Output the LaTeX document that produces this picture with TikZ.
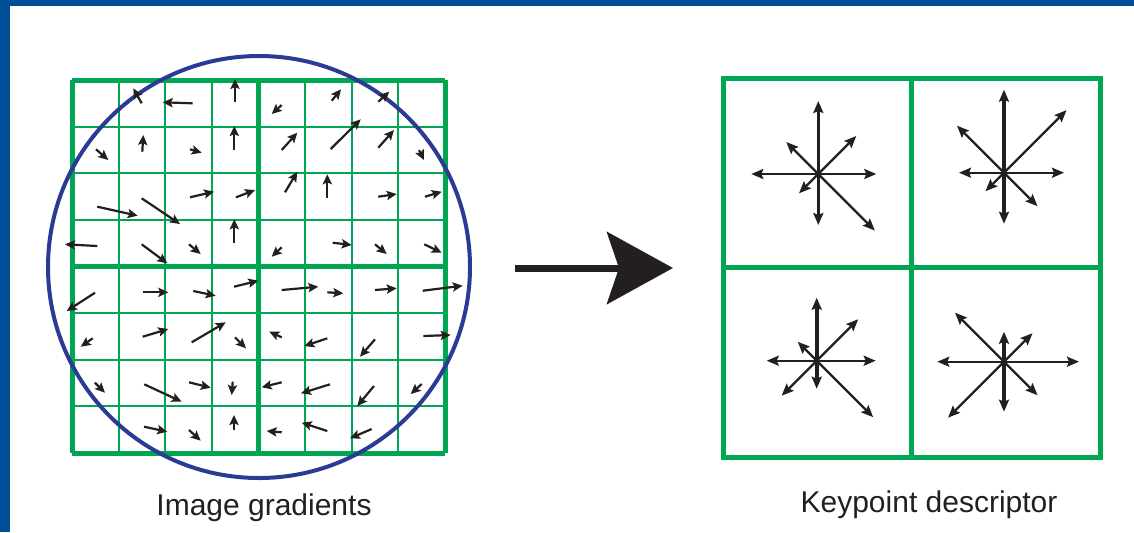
\documentclass[tikz,border=0pt]{standalone}
\usepackage{fontspec}
\setmainfont{Liberation Sans}
\usepackage{xcolor}
\definecolor{slideblue}{HTML}{004E9A}
\definecolor{siftgreen}{HTML}{00A651}
\definecolor{circblue}{HTML}{2B3A94}
\definecolor{inkdark}{HTML}{231F20}
\usetikzlibrary{arrows.meta, positioning}
\tikzset{
  gthin/.style ={draw=siftgreen, line width=1pt},
  gthick/.style={draw=siftgreen, line width=2.5pt},
  circ/.style  ={draw=circblue, line width=2pt},
  garr/.style  ={-{Stealth[length=5pt, width=4.6pt, inset=1pt]}, line width=1.1pt, color=inkdark},
  sarr/.style  ={-{Stealth[length=6pt, width=5pt, inset=1pt]}, line width=1.15pt, color=inkdark},
  sarrv/.style ={sarr, line width=1.8pt},
  bigarr/.style={-{Stealth[length=33pt, width=36pt, inset=6pt]}, line width=3.5pt, color=inkdark},
  lbl/.style   ={font=\fontsize{15}{18}\selectfont, text=inkdark, inner sep=0pt, anchor=base},
}
\begin{document}
\begin{tikzpicture}[x=0.5pt, y=-0.5pt]
  \useasboundingbox (0,0) rectangle (1134,532);
  % slide frame
  \fill[slideblue] (0,0) rectangle (1134,6);
  \fill[slideblue] (0,0) rectangle (10,532);

  % left: sample grid
  \foreach \i in {1,2,3,5,6,7} {
    \draw[gthin] ({72+46.625*\i},80) -- ({72+46.625*\i},453);
    \draw[gthin] (72,{80+46.625*\i}) -- (445,{80+46.625*\i});
  }
  \foreach \i in {0,4,8} {
    \draw[gthick] ({72+46.625*\i},80) -- ({72+46.625*\i},453);
    \draw[gthick] (72,{80+46.625*\i}) -- (445,{80+46.625*\i});
  }
  \draw[circ] (259,267) circle[radius=105.5pt];

  % gradient samples
  \foreach \xa/\ya/\xb/\yb in {
    141.7/103.3/133.3/88.3, 192.7/103.3/162.7/102.3, 235/101.7/235/79,
    96/149.3/108.3/160, 142.3/151.7/143.3/135, 190/149.3/201.7/152.7, 234.3/150/234.3/126,
    97.3/206.7/137.7/215.7, 141.7/198.3/180/224, 190/197.3/214/191.7, 236/197.3/255/190,
    97.3/246/65/244.3, 141.7/244.3/167.3/263.3, 189/244.3/200.7/254, 234.3/243.3/234.3/219.3,
    281.7/105/271.7/114, 331.7/100.7/341/89.3, 378.3/101.7/389.3/91.7,
    281.7/150/297.3/132.7, 330.7/149/360.7/119.3, 378.3/147.7/394/130, 419/150/424/160,
    285/192.3/297.3/171.7, 327.3/197.7/327.3/174.3, 378.3/196.7/396.7/194, 425/196.7/441.7/191.7,
    281.7/247.3/271.7/256.7, 332.7/242.7/351.7/245, 375/244.3/386.7/254, 424.3/244.3/441.7/252.7,
    95/292.7/66.7/311, 142.7/292.3/168.3/292.3, 193.3/291/215.7/295.7, 234/286.7/258.3/280.7,
    92.7/338.3/80.7/346.7, 142.7/336.7/168.3/329, 191.7/342.3/225.7/322.3, 235/337.3/246/348.3,
    95/382.7/105/392.7, 144.3/384.3/181.7/401.7, 189/382.3/210.7/387.7, 232.7/381.7/231.7/395,
    144/426.7/167.3/431.7, 189/430/200.7/440.7, 234/430/234/415,
    281.7/290/318.3/286.7, 327.3/292.3/343.3/293.3, 375/290/396.7/288.3, 422.7/290.7/462.7/285.7,
    281.7/337.3/269.3/331.7, 327.3/338.3/304.3/346, 375/339.3/360/356.7, 423.3/336/450.7/335,
    281.7/382.3/261.7/387.3, 330/384.3/301/393.3, 374/386/357.3/406, 421.7/384/410.7/394,
    281.7/432.3/266.7/431, 327.3/431/301.7/422.7, 371.7/429/350/438.3}
    \draw[garr] (\xa,\ya) -- (\xb,\yb);

  % transform arrow
  \coordinate (arrS) at (515,268);
  \coordinate (arrE) at (673,268);
  \draw[bigarr] (arrS) -- (arrE);

  % right: descriptor box
  \draw[gthick] (723,78) rectangle (1100,457);
  \draw[gthick] (911.5,78) -- (911.5,457);
  \draw[gthick] (723,267.5) -- (1100,267.5);

  % orientation histograms
  \foreach \cx/\cy/\u/\d/\l/\r/\ur/\ul/\dl/\dr [count=\k] in {
    818.3/174/73/51/67/58/38/32/19.3/56.5,
    1004/172.7/83/51/45/60/62.5/47/18.5/33.5,
    816.7/360.7/63/28/50/59/41.5/19/35/56.5,
    1004/361.7/30/50/66.7/75/28.5/49/56/33.5} {
    \coordinate (hist\k) at (\cx,\cy);
    \draw[sarr] (hist\k) -- ++(-\l,0);
    \draw[sarr] (hist\k) -- ++(\r,0);
    \draw[sarr] (hist\k) -- ++(\ur,-\ur);
    \draw[sarr] (hist\k) -- ++(-\ul,-\ul);
    \draw[sarr] (hist\k) -- ++(-\dl,\dl);
    \draw[sarr] (hist\k) -- ++(\dr,\dr);
    \draw[sarrv] (hist\k) -- ++(0,-\u);
    \draw[sarrv] (hist\k) -- ++(0,\d);
  }

  % captions
  \node[lbl] (lblgrad) at (264,515) {Image gradients};
  \node[lbl] (lbldesc) at (929,512) {Keypoint descriptor};
\end{tikzpicture}
\end{document}
